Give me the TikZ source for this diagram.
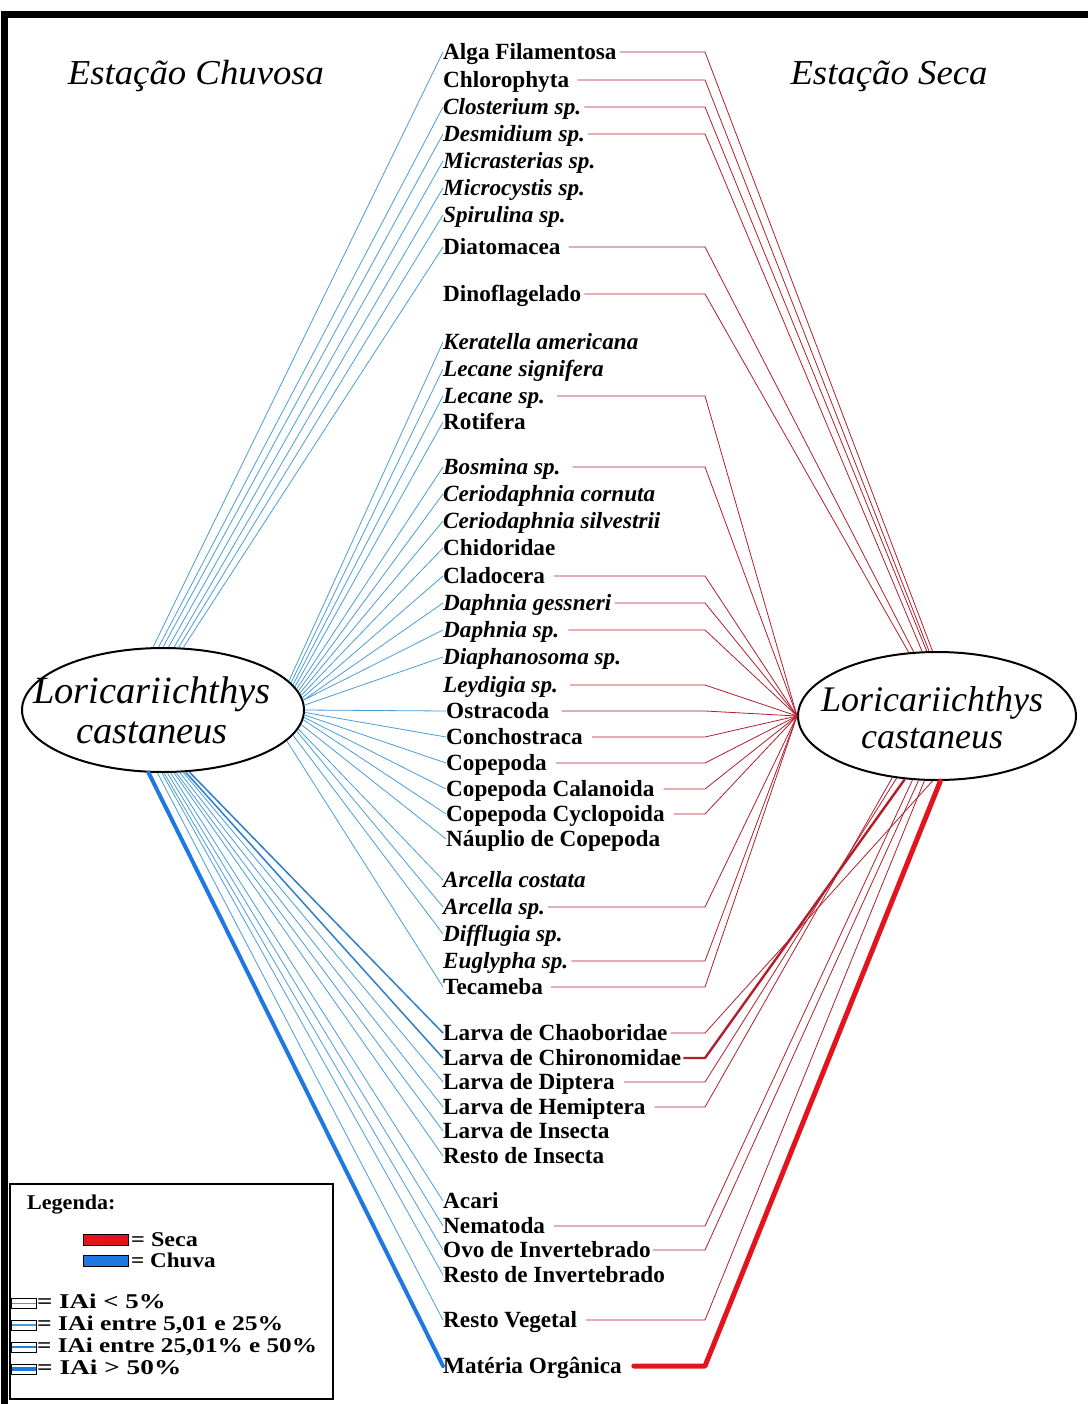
\documentclass[tikz,border=0pt]{standalone}
\usepackage{fontspec}
\usepackage{graphicx}
\setmainfont{Liberation Serif}
\usetikzlibrary{shapes.geometric}
\definecolor{bthin}{HTML}{4A9ED6}
\definecolor{bmid}{HTML}{2E7FC9}
\definecolor{bthick}{HTML}{1F77E0}
\definecolor{rthin}{HTML}{B31E2C}
\definecolor{rthick}{HTML}{E3141B}
\newcommand\lgtxt[2]{\scalebox{#1}[1]{#2}}
\begin{document}
\begin{tikzpicture}[x=1pt,y=-1pt,
  lab/.style={anchor=west,inner sep=0pt,text height=15pt,text depth=0pt,font=\fontsize{23.2}{27}\selectfont\bfseries},
  labi/.style={lab,font=\fontsize{23.2}{27}\selectfont\bfseries\itshape},
  bl/.style={draw=bthin,line width=0.8pt},
  bm/.style={draw=bmid,line width=1.5pt},
  bt/.style={draw=bthick,line width=4pt,line cap=round},
  rl/.style={draw=rthin,line width=0.8pt},
  rm/.style={draw=rthin,line width=2.4pt,line join=round},
  rt/.style={draw=rthick,line width=5pt,line cap=round,line join=round},
  fish/.style={ellipse,draw,line width=2pt,inner sep=0pt},
  title/.style={anchor=base,inner sep=0pt,font=\fontsize{35}{40}\selectfont\itshape},
  legt/.style={anchor=base west,inner sep=0pt,font=\fontsize{21}{22}\selectfont\bfseries},
  sw/.style={draw=black,line width=1pt},
]
\useasboundingbox (0,0) rectangle (1087,1404);
\fill[white] (0,0) rectangle (1087,1404);
\draw[line width=7pt] (4.5,15) rectangle (1100,1420);

% titles
\node[title] (tl) at (196,85) {\scalebox{1.05}[1]{Estação Chuvosa}};
\node[title] (tr) at (889,85) {\scalebox{1.05}[1]{Estação Seca}};

% fish ellipses
\node[fish,minimum width=282pt,minimum height=124pt] (L) at (163,710) {};
\node[fish,minimum width=278pt,minimum height=128pt] (R) at (937,716) {};
\node[inner sep=0pt,align=center,font=\fontsize{38.5}{40}\selectfont\itshape] (Lt) at (152,710) {Loricariichthys\\castaneus};
\node[inner sep=0pt,align=center,font=\fontsize{36}{37}\selectfont\itshape] (Rt) at (932,718) {Loricariichthys\\castaneus};

\coordinate (cx) at (705,0);

% labels
\node[lab]  (alga)   at (443,52)   {Alga Filamentosa};
\node[lab]  (chloro) at (443,80)   {Chlorophyta};
\node[labi] (clost)  at (443,107)  {Closterium sp.};
\node[labi] (desm)   at (443,134)  {Desmidium sp.};
\node[labi] (micras) at (443,161)  {Micrasterias sp.};
\node[labi] (microc) at (443,188)  {Microcystis sp.};
\node[labi] (spir)   at (443,215)  {Spirulina sp.};
\node[lab]  (diat)   at (443,247)  {Diatomacea};
\node[lab]  (dino)   at (443,294)  {Dinoflagelado};
\node[labi] (kera)   at (443,342)  {Keratella americana};
\node[labi] (lecs)   at (443,369)  {Lecane signifera};
\node[labi] (lecsp)  at (443,396)  {Lecane sp.};
\node[lab]  (roti)   at (443,422)  {Rotifera};
\node[labi] (bosm)   at (443,467)  {Bosmina sp.};
\node[labi] (cerc)   at (443,494)  {Ceriodaphnia cornuta};
\node[labi] (cers)   at (443,521)  {Ceriodaphnia silvestrii};
\node[lab]  (chid)   at (443,548)  {Chidoridae};
\node[lab]  (clad)   at (443,576)  {Cladocera};
\node[labi] (dgess)  at (443,603)  {Daphnia gessneri};
\node[labi] (dsp)    at (443,630)  {Daphnia sp.};
\node[labi] (diaph)  at (443,657)  {Diaphanosoma sp.};
\node[labi] (leyd)   at (443,685)  {Leydigia sp.};
\node[lab]  (ostr)   at (446,711)  {Ostracoda};
\node[lab]  (conch)  at (446,737)  {Conchostraca};
\node[lab]  (cope)   at (446,763)  {Copepoda};
\node[lab]  (cala)   at (446,789)  {Copepoda Calanoida};
\node[lab]  (cycl)   at (446,814)  {Copepoda Cyclopoida};
\node[lab]  (naup)   at (446,839)  {Náuplio de Copepoda};
\node[labi] (arcc)   at (443,880)  {Arcella costata};
\node[labi] (arcsp)  at (443,907)  {Arcella sp.};
\node[labi] (diff)   at (443,934)  {Difflugia sp.};
\node[labi] (eugl)   at (443,961)  {Euglypha sp.};
\node[lab]  (teca)   at (443,987)  {Tecameba};
\node[lab]  (chaob)  at (443,1033) {Larva de Chaoboridae};
\node[lab]  (chiro)  at (443,1058) {Larva de Chironomidae};
\node[lab]  (dipt)   at (443,1082) {Larva de Diptera};
\node[lab]  (hemi)   at (443,1107) {Larva de Hemiptera};
\node[lab]  (lins)   at (443,1131) {Larva de Insecta};
\node[lab]  (rins)   at (443,1156) {Resto de Insecta};
\node[lab]  (acari)  at (443,1201) {Acari};
\node[lab]  (nema)   at (443,1226) {Nematoda};
\node[lab]  (ovo)    at (443,1250) {Ovo de Invertebrado};
\node[lab]  (rinv)   at (443,1275) {Resto de Invertebrado};
\node[lab]  (rveg)   at (443,1320) {Resto Vegetal};
\node[lab]  (mato)   at (443,1366) {Matéria Orgânica};

% blue connectors (rainy season)
\draw[bl] (L.99.2) -- (alga.west);
\draw[bl] (L.94.6) -- (clost.west);
\draw[bl] (L.90) -- (desm.west);
\draw[bl] (L.85.4) -- (micras.west);
\draw[bl] (L.80.8) -- (microc.west);
\draw[bl] (L.76.4) -- (spir.west);
\draw[bl] (L.72.1) -- (diat.west);
\draw[bl] (L.13.76) -- (kera.west);
\draw[bl] (L.12.64) -- (lecs.west);
\draw[bl] (L.11.56) -- (lecsp.west);
\draw[bl] (L.10.53) -- (roti.west);
\draw[bl] (L.9.54) -- (bosm.west);
\draw[bl] (L.8.58) -- (cerc.west);
\draw[bl] (L.7.65) -- (cers.west);
\draw[bl] (L.6.74) -- (chid.west);
\draw[bl] (L.5.86) -- (clad.west);
\draw[bl] (L.4.99) -- (dgess.west);
\draw[bl] (L.4.14) -- (dsp.west);
\draw[bl] (L.2.47) -- (diaph.west);
\draw[bl] (L.0) -- (ostr.west);
\draw[bl] (L.-1.23) -- (conch.west);
\draw[bl] (L.-2.47) -- (cope.west);
\draw[bl] (L.-3.7) -- (cala.west);
\draw[bl] (L.-4.99) -- (cycl.west);
\draw[bl] (L.-6.3) -- (naup.west);
\draw[bl] (L.-8.58) -- (arcc.west);
\draw[bl] (L.-9.9) -- (arcsp.west);
\draw[bl] (L.-11.56) -- (diff.west);
\draw[bl] (L.-14.94) -- (teca.west);
\draw[bm] (L.-67.7) -- (chaob.west);
\draw[bm] (L.-70.2) -- (chiro.west);
\draw[bl] (L.-72.8) -- (dipt.west);
\draw[bl] (L.-75.4) -- (hemi.west);
\draw[bl] (L.-78.1) -- (lins.west);
\draw[bl] (L.-80.8) -- (rins.west);
\draw[bl] (L.-83.5) -- (acari.west);
\draw[bl] (L.-86.3) -- (nema.west);
\draw[bl] (L.-89.1) -- (ovo.west);
\draw[bl] (L.-91.85) -- (rinv.west);
\draw[bl] (L.-95.5) -- (rveg.west);
\draw[bt] (L.-103.7) -- (mato.west);

% red connectors (dry season)
\draw[rl] ([xshift=3pt]alga.east) -- (alga.east -| cx) -- (R.94.5);
\draw[rl] ([xshift=8pt]chloro.east) -- (chloro.east -| cx) -- (R.97.1);
\draw[rl] ([xshift=3pt]clost.east) -- (clost.east -| cx) -- (R.99.8);
\draw[rl] ([xshift=3pt]desm.east) -- (desm.east -| cx) -- (R.103.3);
\draw[rl] ([xshift=8pt]diat.east) -- (diat.east -| cx) -- (R.110);
\draw[rl] ([xshift=3pt]dino.east) -- (dino.east -| cx) -- (R.114.9);
\draw[rl] ([xshift=12pt]lecsp.east) -- (lecsp.east -| cx) -- (R.180);
\draw[rl] ([xshift=12pt]bosm.east) -- (bosm.east -| cx) -- (R.180);
\draw[rl] ([xshift=9pt]clad.east) -- (clad.east -| cx) -- (R.180);
\draw[rl] ([xshift=3pt]dgess.east) -- (dgess.east -| cx) -- (R.180);
\draw[rl] ([xshift=9pt]dsp.east) -- (dsp.east -| cx) -- (R.180);
\draw[rl] ([xshift=12pt]leyd.east) -- (leyd.east -| cx) -- (R.180);
\draw[rl] ([xshift=12pt]ostr.east) -- (ostr.east -| cx) -- (R.180);
\draw[rl] ([xshift=9pt]conch.east) -- (conch.east -| cx) -- (R.180);
\draw[rl] ([xshift=9pt]cope.east) -- (cope.east -| cx) -- (R.180);
\draw[rl] ([xshift=9pt]cala.east) -- (cala.east -| cx) -- (R.180);
\draw[rl] ([xshift=9pt]cycl.east) -- (cycl.east -| cx) -- (R.180);
\draw[rl] ([xshift=3pt]arcsp.east) -- (arcsp.east -| cx) -- (R.180);
\draw[rl] ([xshift=3pt]eugl.east) -- (eugl.east -| cx) -- (R.180);
\draw[rl] ([xshift=8pt]teca.east) -- (teca.east -| cx) -- (R.180);
\draw[rl] ([xshift=3pt]chaob.east) -- (chaob.east -| cx) -- (R.-94.5);
\draw[rm] ([xshift=2pt]chiro.east) -- (chiro.east -| cx) -- (R.-117.2);
\draw[rl] ([xshift=9pt]dipt.east) -- (dipt.east -| cx) -- (R.-123.1);
\draw[rl] ([xshift=9pt]hemi.east) -- (hemi.east -| cx) -- (R.-126.6);
\draw[rl] ([xshift=9pt]nema.east) -- (nema.east -| cx) -- (R.-111.7);
\draw[rl] ([xshift=2pt]ovo.east) -- (ovo.east -| cx) -- (R.-106.7);
\draw[rl] ([xshift=9pt]rveg.east) -- (rveg.east -| cx) -- (R.-101.5);
\draw[rt] ([xshift=12pt]mato.east) -- (mato.east -| cx) -- (R.-87.3);

% legend
\draw[line width=1.2pt] (10,1184) rectangle (333,1399);
\node[legt] (lg) at (27,1209) {\lgtxt{1.05}{Legenda:}};
\draw[sw,fill=rthick] (83,1234) rectangle (128,1245);
\node[legt] (lgs) at (131,1246) {\lgtxt{1.15}{= Seca}};
\draw[sw,fill=bthick] (83,1255) rectangle (128,1266);
\node[legt] (lgc) at (131,1267) {\lgtxt{1.1}{= Chuva}};
\draw[sw,fill=white] (11,1298) rectangle (36,1308);
\draw[bthin,line width=0.8pt] (11.5,1303) -- (35.5,1303);
\node[legt] (lg1) at (37,1308) {\lgtxt{1.28}{= IAi < 5\%}};
\draw[sw,fill=white] (11,1320) rectangle (36,1330);
\draw[bthin,line width=1.6pt] (11.5,1325) -- (35.5,1325);
\node[legt] (lg2) at (37,1330) {\lgtxt{1.22}{= IAi entre 5,01 e 25\%}};
\draw[sw,fill=white] (11,1342) rectangle (36,1352);
\draw[bmid,line width=2.8pt] (11.5,1347) -- (35.5,1347);
\node[legt] (lg3) at (37,1352) {\lgtxt{1.2}{= IAi entre 25,01\% e 50\%}};
\draw[sw,fill=white] (11,1364) rectangle (36,1374);
\draw[bthick,line width=4.5pt] (11.5,1369) -- (35.5,1369);
\node[legt] (lg4) at (37,1374) {\lgtxt{1.3}{= IAi > 50\%}};
\end{tikzpicture}
\end{document}
